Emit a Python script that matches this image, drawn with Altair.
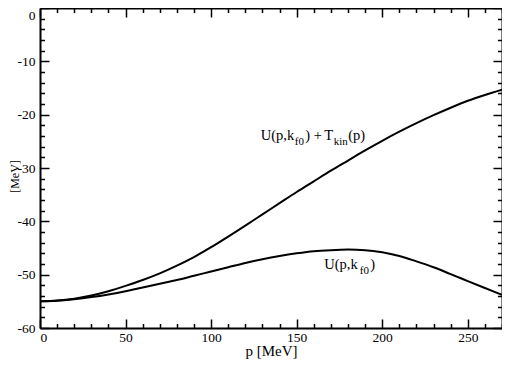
import altair as alt
import pandas as pd

# ---- data ----
p_vals = [0, 10, 20, 30, 40, 50, 60, 70, 80, 90, 100, 110, 120, 130,
          140, 150, 160, 170, 180, 190, 200, 210, 220, 230, 240, 250, 260, 270]
u_plus_tkin = [-55.0, -54.85, -54.5, -53.9, -53.1, -52.1, -51.0, -49.75, -48.3, -46.7,
               -44.85, -42.85, -40.8, -38.7, -36.6, -34.5, -32.5, -30.5, -28.6, -26.7,
               -24.9, -23.2, -21.6, -20.1, -18.7, -17.4, -16.3, -15.3]
u_only = [-55.0, -54.9, -54.6, -54.2, -53.7, -53.1, -52.4, -51.7, -51.0, -50.2,
          -49.4, -48.6, -47.8, -47.1, -46.5, -46.0, -45.6, -45.4, -45.3, -45.4,
          -45.8, -46.5, -47.5, -48.6, -49.9, -51.2, -52.5, -53.8]

x_ticks = list(range(0, 271, 10))
y_ticks = list(range(-60, 1, 2))

# annotation pieces (text, anchor p, anchor value, dx px, dy px, font size)
ann_text = ["U(p,k", "f0", ") +", "T", "kin", "(p)", "U(p,k", "f0", ")"]
ann_p = [129.0, 129.0, 129.0, 129.0, 129.0, 129.0, 166.1, 166.1, 166.1]
ann_v = [-24.7, -24.7, -24.7, -24.7, -24.7, -24.7, -48.85, -48.85, -48.85]
ann_dx = [0, 34, 44.5, 63.5, 73, 87.5, 0, 35.5, 46]
ann_dy = [0, 5, 0, 0, 5, 0, 0, 5, 0]
ann_size = [14.5, 11, 14.5, 14.5, 11, 14.5, 14.5, 11, 14.5]

W, H = 462, 320
FONT = "Liberation Serif"

rows = []
for p, a, b in zip(p_vals, u_plus_tkin, u_only):
    rows.append({"p": p, "v": a, "s": "U+T"})
    rows.append({"p": p, "v": b, "s": "U"})
df = pd.DataFrame(rows)

xs = alt.Scale(domain=[0, 270], nice=False, zero=False)
ys = alt.Scale(domain=[-60, 0], nice=False, zero=False)

major_x = "datum.value % 50 === 0"
major_y = "datum.value % 10 === 0"
tick_x = {"condition": {"test": major_x, "value": 9}, "value": 4.5}
tick_y = {"condition": {"test": major_y, "value": 9}, "value": 4.5}

# main layer: curves + labelled axes (no outward ticks)
lines = alt.Chart(df).mark_line(color="black", strokeWidth=2, interpolate="monotone").encode(
    x=alt.X("p:Q", scale=xs, axis=alt.Axis(
        orient="bottom", values=x_ticks, ticks=False, grid=False,
        labelExpr="datum.value % 50 === 0 ? '' + datum.value : ''",
        labelFont=FONT, labelFontSize=13.5, labelColor="black", labelPadding=2,
        domainColor="black", domainWidth=2,
        title="p [MeV]", titleFont=FONT, titleFontSize=15, titleFontWeight="normal",
        titleColor="black", titleBaseline="alphabetic", titleY=27.5)),
    y=alt.Y("v:Q", scale=ys, axis=alt.Axis(
        orient="left", values=y_ticks, ticks=False, grid=False,
        labelExpr="datum.value % 10 === 0 ? '' + datum.value : ''",
        labelBaseline={"condition": {"test": "datum.value === 0", "value": "top"},
                       "value": "middle"},
        labelFont=FONT, labelFontSize=13.5, labelColor="black", labelPadding=5,
        domainColor="black", domainWidth=2,
        title="[MeV]", titleFont=FONT, titleFontSize=12, titleFontWeight="normal",
        titleColor="black", titleAngle=270, titleBaseline="alphabetic",
        titleX=-21.5, titleY=168, titleAlign="center")),
    detail="s:N",
)

# inward ticks on bottom and left
ticks_a = alt.Chart(df).mark_point(opacity=0).encode(
    x=alt.X("p:Q", scale=xs, axis=alt.Axis(
        orient="top", offset=-H, values=x_ticks, labels=False, domain=False, grid=False,
        tickSize=tick_x, tickWidth=1.5, tickColor="black", title=None)),
    y=alt.Y("v:Q", scale=ys, axis=alt.Axis(
        orient="right", offset=-W, values=y_ticks, labels=False, domain=False, grid=False,
        tickSize=tick_y, tickWidth=1.5, tickColor="black", title=None)),
)

# inward ticks on top and right, plus top/right frame lines
ticks_b = alt.Chart(df).mark_point(opacity=0).encode(
    x=alt.X("p:Q", scale=xs, axis=alt.Axis(
        orient="bottom", offset=-H, values=x_ticks, labels=False, grid=False,
        domainColor="black", domainWidth=2,
        tickSize=tick_x, tickWidth=1.5, tickColor="black", title=None)),
    y=alt.Y("v:Q", scale=ys, axis=alt.Axis(
        orient="left", offset=-W, values=y_ticks, labels=False, grid=False,
        domainColor="black", domainWidth=2,
        tickSize=tick_y, tickWidth=1.5, tickColor="black", title=None)),
)

texts = []
for t, p, v, dx, dy, fs in zip(ann_text, ann_p, ann_v, ann_dx, ann_dy, ann_size):
    d = pd.DataFrame({"p": [p], "v": [v], "t": [t]})
    texts.append(alt.Chart(d).mark_text(
        align="left", baseline="alphabetic", dx=dx, dy=dy, fontSize=fs,
        font=FONT, color="black").encode(
        x=alt.X("p:Q", scale=xs, axis=None),
        y=alt.Y("v:Q", scale=ys, axis=None),
        text="t:N"))

chart = alt.layer(lines, ticks_a, ticks_b, *texts).resolve_axis(
    x="independent", y="independent"
).properties(
    width=W, height=H,
    padding={"left": 32, "top": 0, "right": 0, "bottom": 31},
    autosize=alt.AutoSizeParams(type="none"),
    background="white",
).configure_view(stroke=None).configure_axis(
    labelFont=FONT, titleFont=FONT
).configure_text(font=FONT)

chart.save("out.html", embed_options={"renderer": "svg", "actions": False})
